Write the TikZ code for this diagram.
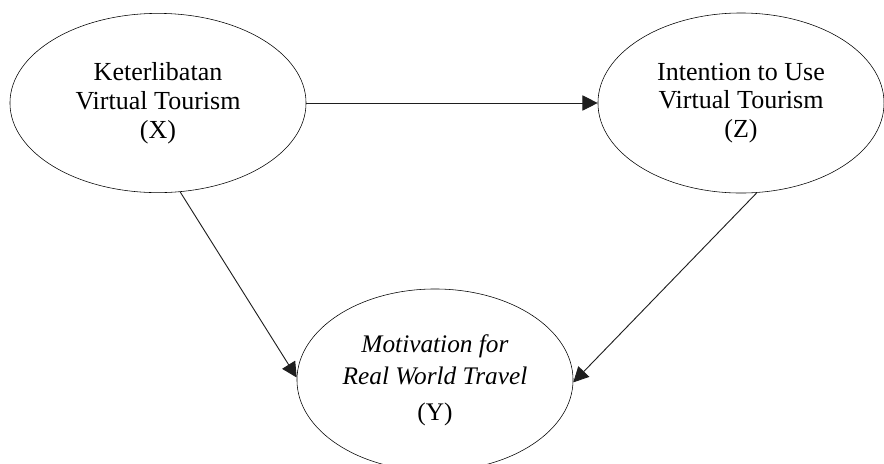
\documentclass[tikz,border=0pt]{standalone}
\usepackage{fontspec}
\setmainfont{Liberation Serif}
\usepackage{tikz}
\usetikzlibrary{shapes.geometric, arrows.meta, positioning}
\definecolor{linecolor}{RGB}{30,30,30}

\begin{document}
\begin{tikzpicture}[
    x=0.025cm, y=-0.025cm,
    var/.style={draw, ellipse, inner sep=0pt, align=center, font=\fontsize{18.5}{20.5}\selectfont},
    arrow/.style={-{Triangle[length=0.38cm, width=0.38cm]}, draw=linecolor, line width=0.65pt}
]
    \useasboundingbox (0,0) rectangle (884,463);
    \clip (0,0) rectangle (884,463);

    \node[var, minimum width=7.4cm, minimum height=4.48cm] (kvt) at (158,103) {Keterlibatan\\Virtual Tourism\\(X)};
    \node[var, minimum width=7.15cm, minimum height=4.5cm] (itu) at (741,103) {Intention to Use\\Virtual Tourism\\(Z)};
    \node[var, minimum width=6.9cm, minimum height=4.55cm, font=\fontsize{18}{22.8}\selectfont] (mrt) at (435,380) {\textit{Motivation for}\\\textit{Real World Travel}\\[3pt](Y)};

    \draw[arrow] (kvt.east) -- (itu.west);
    \draw[arrow] (kvt.-76) -- (mrt.179);
    \draw[arrow] (itu.-80) -- (mrt.-1);
\end{tikzpicture}
\end{document}
